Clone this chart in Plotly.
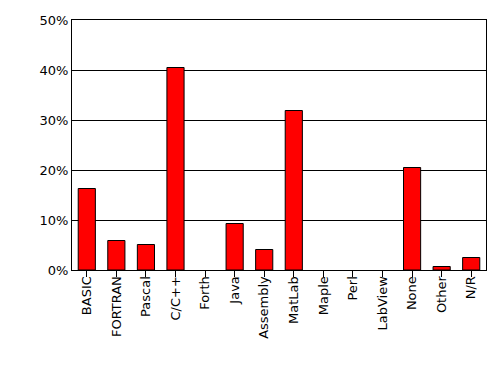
import plotly.graph_objects as go

categories = ["BASIC", "FORTRAN", "Pascal", "C/C++", "Forth", "Java", "Assembly",
              "MatLab", "Maple", "Perl", "LabView", "None", "Other", "N/R"]
values = [16.3, 5.9, 5.1, 40.5, 0, 9.3, 4.1, 31.9, 0, 0, 0, 20.5, 0.7, 2.5]
y_ticks = [0, 10, 20, 30, 40, 50]
y_labels = ["0%", "10%", "20%", "30%", "40%", "50%"]

fig = go.Figure(go.Bar(
    x=categories, y=values,
    marker=dict(color="#ff0000",
                line=dict(color="black", width=[1 if v > 0 else 0 for v in values])),
))
font = dict(family="DejaVu Sans, Arial, sans-serif", size=13, color="black")
fig.update_layout(
    width=498, height=367,
    margin=dict(l=72, r=12, t=20, b=97),
    paper_bgcolor="white", plot_bgcolor="white",
    bargap=0.42, showlegend=False, font=font,
    xaxis=dict(tickangle=-90, ticks="outside", ticklen=6, tickcolor="black",
               ticklabelstandoff=-6,
               showline=True, linecolor="black", linewidth=1, mirror=True,
               showgrid=False, tickfont=font),
    yaxis=dict(range=[0, 50], tickvals=y_ticks, ticktext=y_labels,
               showgrid=True, gridcolor="black", gridwidth=1,
               showline=True, linecolor="black", linewidth=1, mirror=True,
               ticks="", zeroline=False, tickfont=font),
)
fig.write_html("out.html")
